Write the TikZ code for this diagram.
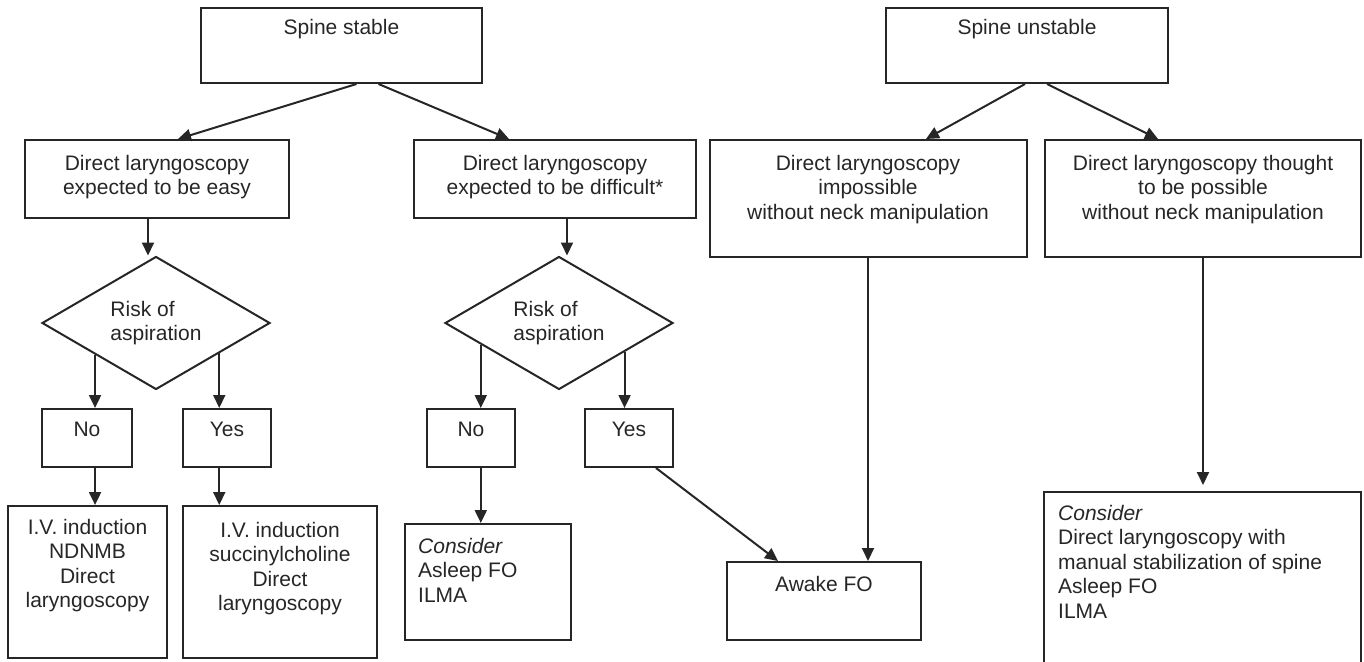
\documentclass[tikz,border=0pt]{standalone}
\usepackage{fontspec}
\setmainfont{Liberation Sans}
\usetikzlibrary{shapes.geometric}
\usetikzlibrary{arrows.meta}
\usetikzlibrary{calc}

\tikzset{
  box/.style={draw=black!85,line width=2pt,rectangle,inner sep=0pt},
  txt/.style={font=\fontsize{21}{24.5}\selectfont,text=black!85,inner sep=0pt},
  risk/.style={draw=black!85,line width=2pt,diamond,aspect=1.7,inner sep=0pt,minimum width=228,minimum height=133,txt,align=left},
  arr/.style={draw=black!85,line width=2pt,-{Triangle[length=13pt,width=12pt]}}
}

\begin{document}
\begin{tikzpicture}[x=1pt,y=-1pt]
\path[use as bounding box] (0,0) rectangle (1364,661);
\clip (0,0) rectangle (1364,661);
\node[box,minimum width=281,minimum height=75,label={[txt,anchor=north,yshift=-12]north:Spine stable}] (stable) at (341.5,45.5) {};
\node[box,minimum width=282,minimum height=75,label={[txt,anchor=north,yshift=-12]north:Spine unstable}] (unstable) at (1027,45.5) {};
\node[box,minimum width=264,minimum height=78,label={[txt,align=center,anchor=north,yshift=-16]north:{Direct laryngoscopy\\expected to be easy}}] (easy) at (157,179) {};
\node[box,minimum width=282,minimum height=78,label={[txt,align=center,anchor=north,yshift=-16]north:{Direct laryngoscopy\\expected to be difficult*}}] (difficult) at (555,179) {};
\node[box,minimum width=317,minimum height=117,label={[txt,align=center,anchor=north,yshift=-16]north:{Direct laryngoscopy\\impossible\\without neck manipulation}}] (impossible) at (868,198.5) {};
\node[box,minimum width=316,minimum height=117,label={[txt,align=center,anchor=north,yshift=-16]north:{Direct laryngoscopy thought\\to be possible\\without neck manipulation}}] (possible) at (1203,198.5) {};
\node[risk] (d1) at (156,323) {Risk of\\aspiration};
\node[risk] (d2) at (559,323) {Risk of\\aspiration};
\node[box,minimum width=90,minimum height=58,label={[txt,anchor=north,yshift=-14]north:No}] (no1) at (87,438) {};
\node[box,minimum width=88,minimum height=58,label={[txt,anchor=north,yshift=-14]north:Yes}] (yes1) at (227,438) {};
\node[box,minimum width=88,minimum height=58,label={[txt,anchor=north,yshift=-14]north:No}] (no2) at (471,438) {};
\node[box,minimum width=88,minimum height=58,label={[txt,anchor=north,yshift=-14]north:Yes}] (yes2) at (629,438) {};
\node[box,minimum width=159,minimum height=152,label={[txt,align=center,anchor=north,yshift=-14]north:{I.V. induction\\NDNMB\\Direct\\laryngoscopy}}] (ivnd) at (87.5,582) {};
\node[box,minimum width=194,minimum height=152,label={[txt,align=center,anchor=north,yshift=-17]north:{I.V. induction\\succinylcholine\\Direct\\laryngoscopy}}] (ivsux) at (280,582) {};
\node[box,minimum width=166,minimum height=116,label={[txt,align=left,anchor=north west,xshift=14,yshift=-15]north west:{\textit{Consider}\\Asleep FO\\ILMA}}] (asleep) at (488,582) {};
\node[box,minimum width=194,minimum height=78,label={[txt,anchor=north,yshift=-15]north:Awake FO}] (awake) at (824,601) {};
\node[box,minimum width=317,minimum height=190,label={[txt,align=left,anchor=north west,xshift=15,yshift=-14]north west:{\textit{Consider}\\Direct laryngoscopy with\\manual stabilization of spine\\Asleep FO\\ILMA}}] (manual) at (1202.5,587) {};
\coordinate (d1no) at ($(d1.west)!0.47!(d1.south)$);
\coordinate (d1yes) at ($(d1.east)!0.45!(d1.south)$);
\coordinate (d2no) at ($(d2.west)!0.32!(d2.south)$);
\coordinate (d2yes) at ($(d2.east)!0.43!(d2.south)$);
\draw[arr] ([xshift=15]stable.south) -- ([xshift=21]easy.north);
\draw[arr] ([xshift=37]stable.south) -- ([xshift=-46]difficult.north);
\draw[arr] ([xshift=-2]unstable.south) -- ([xshift=58]impossible.north);
\draw[arr] ([xshift=20]unstable.south) -- ([xshift=-45]possible.north);
\draw[arr] ([xshift=-9]easy.south) -- ([xshift=-8]d1.north);
\draw[arr] ([xshift=12]difficult.south) -- ([xshift=8]d2.north);
\draw[arr] (d1no) -- (d1no |- no1.north);
\draw[arr] (d1yes) -- (d1yes |- yes1.north);
\draw[arr] (d2no) -- (d2no |- no2.north);
\draw[arr] (d2yes) -- (d2yes |- yes2.north);
\draw[arr] (d1no |- no1.south) -- (d1no |- ivnd.north);
\draw[arr] (d1yes |- yes1.south) -- (d1yes |- ivsux.north);
\draw[arr] (d2no |- no2.south) -- (d2no |- asleep.north);
\draw[arr] ([xshift=27]yes2.south) -- ([xshift=-46]awake.north);
\draw[arr] (impossible.south) -- (impossible.south |- awake.north);
\draw[arr,shorten >=6pt] (possible.south) -- (possible.south |- manual.north);
\end{tikzpicture}
\end{document}
